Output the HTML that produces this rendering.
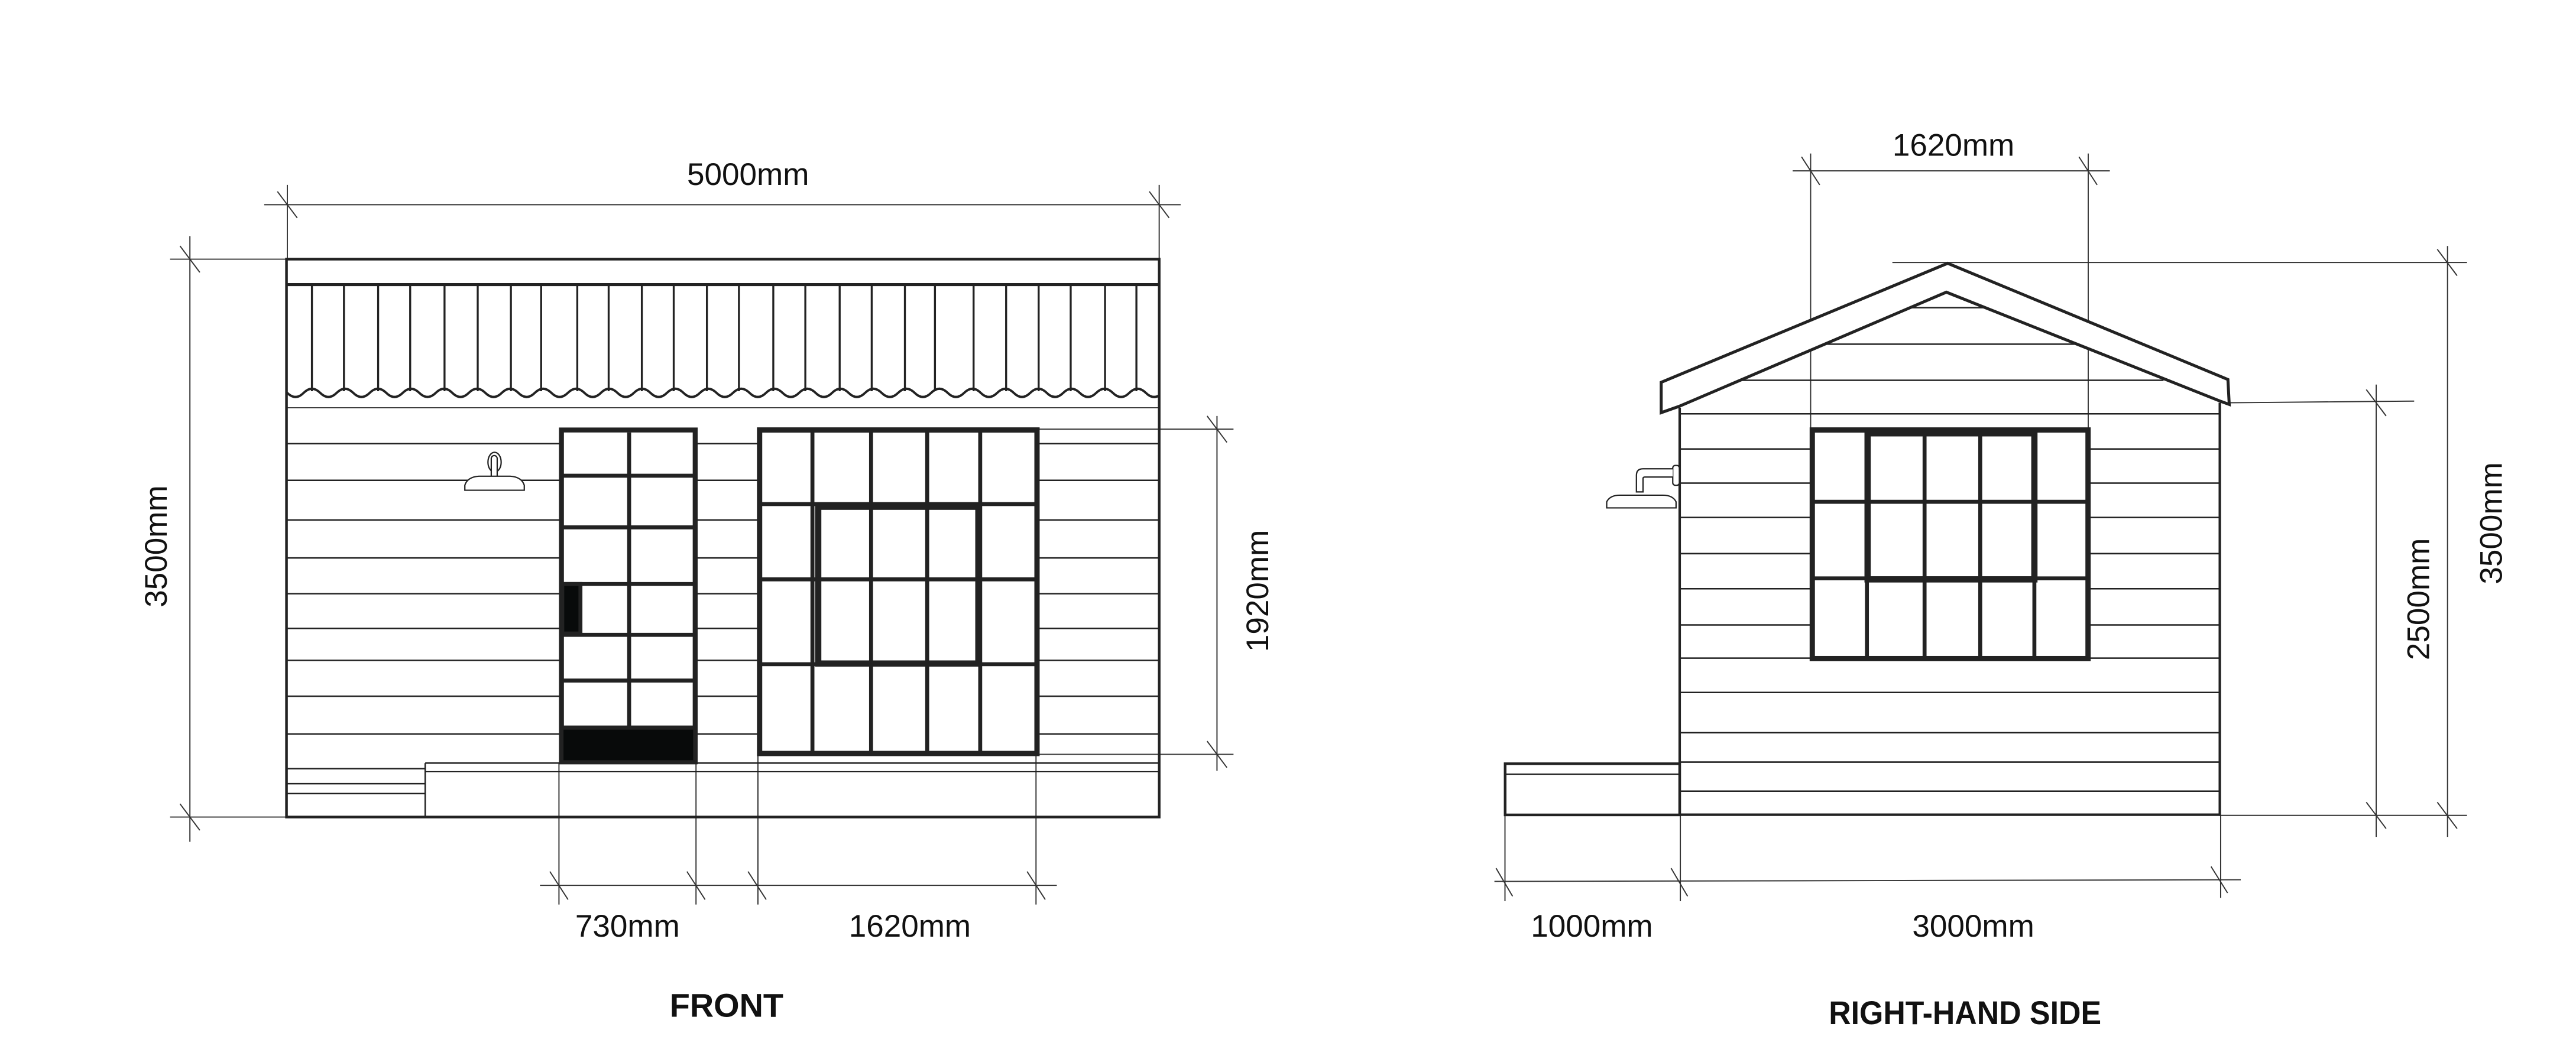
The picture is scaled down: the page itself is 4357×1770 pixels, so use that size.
<!DOCTYPE html>
<html><head><meta charset="utf-8"><style>
html,body{margin:0;padding:0;background:#fff;}
svg{display:block;}
text{font-family:"Liberation Sans",sans-serif;fill:#111;}
</style></head><body>
<svg width="4357" height="1770" viewBox="0 0 1560 633.7" xmlns="http://www.w3.org/2000/svg">
<defs><clipPath id="fc"><rect x="174" y="160" width="528" height="100"/></clipPath></defs>
<rect x="0" y="0" width="1560" height="633.7" fill="#fff"/>
<g stroke="#222" fill="none" stroke-linecap="butt">
<!-- ============ FRONT ============ -->
<g stroke-width="0.7" stroke="#333">
 <line x1="160" y1="124" x2="715" y2="124"/>
 <line x1="174" y1="112" x2="174" y2="157"/>
 <line x1="702" y1="112" x2="702" y2="157"/>
 <line x1="168" y1="116" x2="180" y2="132"/>
 <line x1="696" y1="116" x2="708" y2="132"/>
 <line x1="115" y1="143" x2="115" y2="510"/>
 <line x1="103" y1="157" x2="174" y2="157"/>
 <line x1="103" y1="495" x2="174" y2="495"/>
 <line x1="109" y1="149" x2="121" y2="165"/>
 <line x1="109" y1="487" x2="121" y2="503"/>
 <line x1="737" y1="252" x2="737" y2="467"/>
 <line x1="627" y1="260" x2="747" y2="260"/>
 <line x1="627" y1="457" x2="747" y2="457"/>
 <line x1="731" y1="252" x2="743" y2="268"/>
 <line x1="731" y1="449" x2="743" y2="465"/>
 <line x1="327" y1="536.4" x2="640" y2="536.4"/>
 <line x1="338.5" y1="462" x2="338.5" y2="548"/>
 <line x1="421.5" y1="462" x2="421.5" y2="548"/>
 <line x1="459" y1="457" x2="459" y2="548"/>
 <line x1="627.4" y1="457" x2="627.4" y2="548"/>
 <line x1="333" y1="528" x2="344" y2="545"/>
 <line x1="416" y1="528" x2="427" y2="545"/>
 <line x1="453" y1="528" x2="464" y2="545"/>
 <line x1="622" y1="528" x2="633" y2="545"/>
</g>
<rect x="173.5" y="157" width="528.5" height="338" stroke-width="1.6"/>
<line x1="173.5" y1="172.4" x2="702" y2="172.4" stroke-width="1.8"/>
<g stroke-width="1.2">
 <line x1="188.9" y1="173" x2="188.9" y2="237"/><line x1="208.3" y1="173" x2="208.3" y2="237"/>
 <line x1="229" y1="173" x2="229" y2="237"/><line x1="248.4" y1="173" x2="248.4" y2="237"/>
 <line x1="269.2" y1="173" x2="269.2" y2="237"/><line x1="289.3" y1="173" x2="289.3" y2="237"/>
 <line x1="309.4" y1="173" x2="309.4" y2="237"/><line x1="327.7" y1="173" x2="327.7" y2="237"/>
 <line x1="349.6" y1="173" x2="349.6" y2="237"/><line x1="368.6" y1="173" x2="368.6" y2="237"/>
 <line x1="388.7" y1="173" x2="388.7" y2="237"/><line x1="408" y1="173" x2="408" y2="237"/>
 <line x1="428.1" y1="173" x2="428.1" y2="237"/><line x1="447.5" y1="173" x2="447.5" y2="237"/>
 <line x1="468.3" y1="173" x2="468.3" y2="237"/><line x1="487.7" y1="173" x2="487.7" y2="237"/>
 <line x1="508.5" y1="173" x2="508.5" y2="237"/><line x1="527.9" y1="173" x2="527.9" y2="237"/>
 <line x1="548" y1="173" x2="548" y2="237"/><line x1="566.2" y1="173" x2="566.2" y2="237"/>
 <line x1="589.6" y1="173" x2="589.6" y2="237"/><line x1="609.3" y1="173" x2="609.3" y2="237"/>
 <line x1="629" y1="173" x2="629" y2="237"/><line x1="648.4" y1="173" x2="648.4" y2="237"/>
 <line x1="669.2" y1="173" x2="669.2" y2="237"/><line x1="688.2" y1="173" x2="688.2" y2="237"/>
</g>
<path clip-path="url(#fc)" stroke-width="1.4" d="M153.9 238 q5 5 10 0 q5 -5 10 0 q5 5 10 0 q5 -5 10 0 q5 5 10 0 q5 -5 10 0 q5 5 10 0 q5 -5 10 0 q5 5 10 0 q5 -5 10 0 q5 5 10 0 q5 -5 10 0 q5 5 10 0 q5 -5 10 0 q5 5 10 0 q5 -5 10 0 q5 5 10 0 q5 -5 10 0 q5 5 10 0 q5 -5 10 0 q5 5 10 0 q5 -5 10 0 q5 5 10 0 q5 -5 10 0 q5 5 10 0 q5 -5 10 0 q5 5 10 0 q5 -5 10 0 q5 5 10 0 q5 -5 10 0 q5 5 10 0 q5 -5 10 0 q5 5 10 0 q5 -5 10 0 q5 5 10 0 q5 -5 10 0 q5 5 10 0 q5 -5 10 0 q5 5 10 0 q5 -5 10 0 q5 5 10 0 q5 -5 10 0 q5 5 10 0 q5 -5 10 0 q5 5 10 0 q5 -5 10 0 q5 5 10 0 q5 -5 10 0 q5 5 10 0 q5 -5 10 0 q5 5 10 0 q5 -5 10 0 q5 5 10 0 q5 -5 10 0 q5 5 10 0 q5 -5 10 0 q5 5 10 0 q5 -5 10 0"/>
<line x1="173.5" y1="247" x2="702" y2="247" stroke-width="0.6"/>
<g stroke-width="0.9">
 <line x1="174" y1="268.8" x2="702" y2="268.8"/>
 <line x1="174" y1="291" x2="702" y2="291"/>
 <line x1="174" y1="315" x2="702" y2="315"/>
 <line x1="174" y1="338" x2="702" y2="338"/>
 <line x1="174" y1="359.7" x2="702" y2="359.7"/>
 <line x1="174" y1="380.7" x2="702" y2="380.7"/>
 <line x1="174" y1="400.1" x2="702" y2="400.1"/>
 <line x1="174" y1="421.8" x2="702" y2="421.8"/>
 <line x1="174" y1="444.7" x2="702" y2="444.7"/>
 <line x1="257.5" y1="462.3" x2="702" y2="462.3"/>
 <line x1="257.5" y1="467.5" x2="702" y2="467.5" stroke-width="0.6"/>
 <line x1="257.5" y1="462.3" x2="257.5" y2="495"/>
 <line x1="174" y1="465.7" x2="257.5" y2="465.7"/>
 <line x1="174" y1="474.8" x2="257.5" y2="474.8"/>
 <line x1="174" y1="480.8" x2="257.5" y2="480.8"/>
</g>
<g stroke-width="0.8" fill="#fff">
 <ellipse cx="299.5" cy="280" rx="4" ry="6"/>
 <rect x="297.5" y="276" width="3.6" height="14" rx="1.8"/>
 <path d="M281.5 297 L281.5 294 Q283 289 290 288.5 L309 288.5 Q316 289 317.5 294 L317.5 297 Z"/>
</g>
<rect x="340" y="260.5" width="81" height="201" stroke-width="3" fill="#fff"/>
<line x1="381" y1="262" x2="381" y2="441" stroke-width="2.4"/>
<g stroke-width="2.4">
 <line x1="340" y1="288.2" x2="421" y2="288.2"/>
 <line x1="340" y1="319.5" x2="421" y2="319.5"/>
 <line x1="340" y1="353.8" x2="421" y2="353.8"/>
 <line x1="340" y1="384.6" x2="421" y2="384.6"/>
 <line x1="340" y1="412.3" x2="421" y2="412.3"/>
</g>
<rect x="340" y="440.8" width="81" height="21" fill="#080a0a" stroke-width="2.5"/>
<rect x="340.5" y="353.8" width="11" height="30" fill="#080a0a" stroke-width="2.4"/>
<rect x="460" y="260.5" width="168" height="196" stroke-width="3.2" fill="#fff"/>
<g stroke-width="2.4">
 <line x1="492" y1="261" x2="492" y2="456"/>
 <line x1="527.5" y1="261" x2="527.5" y2="456"/>
 <line x1="561.5" y1="261" x2="561.5" y2="456"/>
 <line x1="593.6" y1="261" x2="593.6" y2="456"/>
 <line x1="460" y1="305.4" x2="628" y2="305.4"/>
 <line x1="460" y1="351" x2="628" y2="351"/>
 <line x1="460" y1="402.4" x2="628" y2="402.4"/>
</g>
<rect x="495.5" y="307" width="97" height="95" stroke-width="3.8"/>

<!-- ============ RIGHT SIDE ============ -->
<g stroke-width="0.7" stroke="#333">
 <line x1="1085.6" y1="103.5" x2="1277.7" y2="103.5"/>
 <line x1="1096.5" y1="93" x2="1096.5" y2="260"/>
 <line x1="1264.6" y1="93" x2="1264.6" y2="260"/>
 <line x1="1091" y1="95" x2="1102" y2="112"/>
 <line x1="1259" y1="95" x2="1270" y2="112"/>
 <line x1="1146" y1="159" x2="1494" y2="159"/>
 <line x1="1482.2" y1="149" x2="1482.2" y2="507"/>
 <line x1="1476" y1="151" x2="1488" y2="167"/>
 <line x1="1344" y1="494" x2="1494" y2="494"/>
 <line x1="1476" y1="486" x2="1488" y2="502"/>
 <line x1="1350" y1="244" x2="1462" y2="243"/>
 <line x1="1439" y1="233" x2="1439" y2="507"/>
 <line x1="1433" y1="236" x2="1445" y2="252"/>
 <line x1="1433" y1="486" x2="1445" y2="502"/>
 <line x1="905" y1="534" x2="1357" y2="533"/>
 <line x1="911.4" y1="494" x2="911.4" y2="546"/>
 <line x1="1017.6" y1="494" x2="1017.6" y2="546"/>
 <line x1="1344.8" y1="494" x2="1344.8" y2="544"/>
 <line x1="906" y1="526" x2="916" y2="543"/>
 <line x1="1012" y1="526" x2="1022" y2="543"/>
 <line x1="1339" y1="525" x2="1349" y2="541"/>
</g>
<path d="M1006 250 L1006 231.6 L1179.5 159.5 L1349.2 229.9 L1350 245 L1345 243.2 L1178.7 177 L1016.8 246.2 Z" stroke-width="1.8" fill="#fff"/>
<path d="M1016.8 246.2 L1178.7 177 L1345 243.2" stroke-width="0.8"/>
<path d="M1017.2 247 L1017.2 493.6 L1344.3 493.6 L1344.3 244" stroke-width="1.5"/>
<g stroke-width="0.9">
 <line x1="1156" y1="186.4" x2="1201" y2="186.4"/>
 <line x1="1104.7" y1="208.5" x2="1256.8" y2="208.5"/>
 <line x1="1053.3" y1="230.4" x2="1310.2" y2="230.4"/>
 <line x1="1017.5" y1="250.7" x2="1344" y2="250.7"/>
 <line x1="1017.5" y1="272" x2="1344" y2="272"/>
 <line x1="1017.5" y1="292.7" x2="1344" y2="292.7"/>
 <line x1="1017.5" y1="313.5" x2="1344" y2="313.5"/>
 <line x1="1017.5" y1="335.4" x2="1344" y2="335.4"/>
 <line x1="1017.5" y1="356.7" x2="1344" y2="356.7"/>
 <line x1="1017.5" y1="378.6" x2="1344" y2="378.6"/>
 <line x1="1017.5" y1="398.7" x2="1344" y2="398.7"/>
 <line x1="1017.5" y1="419.5" x2="1344" y2="419.5"/>
 <line x1="1017.5" y1="443.9" x2="1344" y2="443.9"/>
 <line x1="1017.5" y1="461.7" x2="1344" y2="461.7"/>
 <line x1="1017.5" y1="479.3" x2="1344" y2="479.3"/>
</g>
<rect x="911.5" y="462.7" width="105.7" height="31" stroke-width="1.6" fill="#fff"/>
<line x1="911.5" y1="469" x2="1017.2" y2="469" stroke-width="0.8"/>
<g stroke-width="0.8" fill="#fff">
 <rect x="1013" y="282" width="4" height="12" rx="1.5"/>
 <path d="M1013 284 L995 284 Q991 284 991 288 L991 298 L995 298 L995 290 Q995 289 996 289 L1013 289"/>
 <path d="M973 307.7 L973 304 Q975 300 981 300 L1007 300 Q1013 300 1015 304 L1015 307.7 Z"/>
</g>
<rect x="1097.5" y="260.5" width="167" height="138.5" stroke-width="3.2" fill="#fff"/>
<g stroke-width="2.4">
 <line x1="1097.5" y1="304" x2="1264.5" y2="304"/>
 <line x1="1097.5" y1="350.4" x2="1264.5" y2="350.4"/>
 <line x1="1130.6" y1="261" x2="1130.6" y2="399"/>
 <line x1="1165.5" y1="261" x2="1165.5" y2="399"/>
 <line x1="1199.2" y1="261" x2="1199.2" y2="399"/>
 <line x1="1232" y1="261" x2="1232" y2="399"/>
</g>
<rect x="1131" y="262.5" width="101" height="88.5" stroke-width="3.8"/>
</g>

<g font-size="19">
 <text x="453" y="112" text-anchor="middle">5000mm</text>
 <text x="380" y="567.5" text-anchor="middle">730mm</text>
 <text x="551" y="567.5" text-anchor="middle">1620mm</text>
 <text transform="translate(101 331) rotate(-90)" text-anchor="middle">3500mm</text>
 <text transform="translate(768 358) rotate(-90)" text-anchor="middle">1920mm</text>
 <text x="1183" y="94.3" text-anchor="middle">1620mm</text>
 <text x="964" y="567.5" text-anchor="middle">1000mm</text>
 <text x="1195" y="567.5" text-anchor="middle">3000mm</text>
 <text transform="translate(1471 363) rotate(-90)" text-anchor="middle">2500mm</text>
 <text transform="translate(1515 317) rotate(-90)" text-anchor="middle">3500mm</text>
</g>
<g font-size="20" font-weight="bold">
 <text x="440" y="616" text-anchor="middle">FRONT</text>
 <text x="1190" y="620.5" text-anchor="middle" textLength="165" lengthAdjust="spacingAndGlyphs">RIGHT-HAND SIDE</text>
</g>
</svg>
</body></html>
